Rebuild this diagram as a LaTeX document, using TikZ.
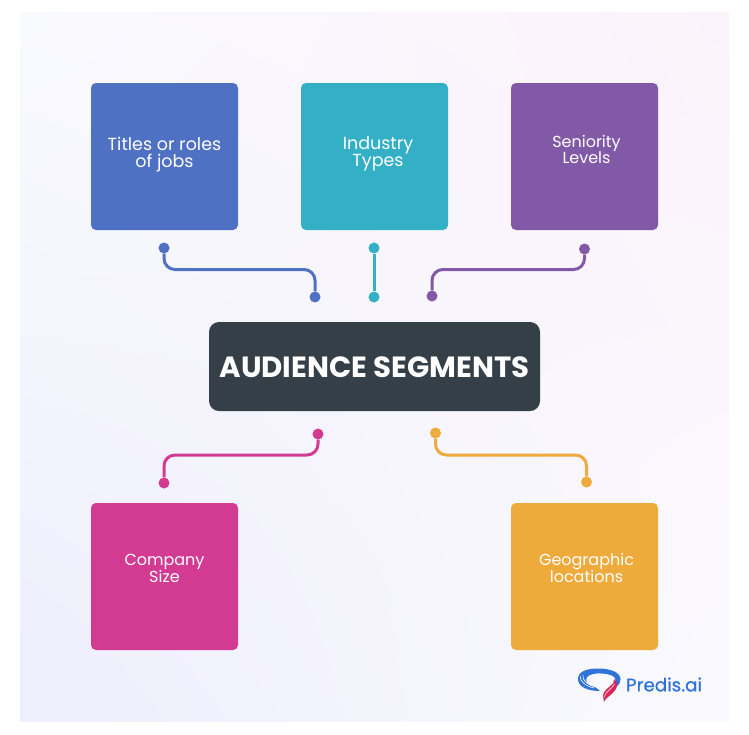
\documentclass[tikz,border=0pt]{standalone}
\usepackage{fontspec}
\setmainfont{Poppins}
\newfontfamily\logofont[FakeBold=0.5]{Poppins}
\usepackage{tikz}
\usetikzlibrary{shadings}
\definecolor{bluebox}{HTML}{4F71C4}
\definecolor{tealbox}{HTML}{33AFC6}
\definecolor{purplebox}{HTML}{8259A6}
\definecolor{pinkbox}{HTML}{D33A92}
\definecolor{amberbox}{HTML}{EFAA3C}
\definecolor{darkbox}{HTML}{343F48}
\definecolor{logoblue}{HTML}{2F72D8}
\definecolor{logored}{HTML}{D8285A}
\definecolor{panelul}{HTML}{F9FAFE}
\definecolor{panelur}{HTML}{FCF2FB}
\definecolor{panelll}{HTML}{EEEEFC}
\definecolor{panellr}{HTML}{FAFAFE}
\tikzset{
  segbox/.style={fill=#1,rounded corners=5pt,minimum size=147pt,inner sep=0pt},
  segtext/.style={text=white,align=center,inner sep=0pt,font=\fontsize{16}{16}\selectfont},
  segdot/.style={circle,fill=#1,minimum size=11pt,inner sep=0pt},
  seglink/.style={draw=#1,line width=3pt,rounded corners=11pt},
}
\begin{document}
\begin{tikzpicture}[x=1pt,y=-1pt]
  \useasboundingbox (0,0) rectangle (749,734);
  \shade[upper left=panelul,upper right=panelur,lower left=panelll,lower right=panellr] (20,12) rectangle (729,721);
  % boxes
  \node[segbox=bluebox] (titles) at (164.5,156.5) {};
  \node[segbox=tealbox] (industry) at (374.5,156.5) {};
  \node[segbox=purplebox] (seniority) at (584.5,156.5) {};
  \node[segbox=pinkbox] (company) at (164.5,576.5) {};
  \node[segbox=amberbox] (geographic) at (584.5,576.5) {};
  \node[segtext,font=\fontsize{17.5}{17}\selectfont,yshift=1.5pt] (titlestext) at (titles) {Titles or roles\\of jobs};
  \node[segtext,font=\fontsize{17.5}{17}\selectfont,xshift=3.5pt,yshift=2.5pt] (industrytext) at (industry) {Industry\\Types};
  \node[segtext,xshift=2pt,yshift=7pt] (senioritytext) at (seniority) {Seniority\\Levels};
  \node[segtext,yshift=8pt] (companytext) at (company) {Company\\Size};
  \node[segtext,xshift=2pt,yshift=8.5pt] (geographictext) at (geographic) {Geographic\\locations};
  \node[fill=darkbox,rounded corners=10pt,minimum width=331pt,minimum height=89pt,inner sep=0pt,
    text height=21pt,text depth=0pt,
    text=white,font=\fontsize{29.2}{30}\selectfont\bfseries] (audience) at (374.5,366.5) {AUDIENCE SEGMENTS};
  % dots
  \node[segdot=bluebox] (titlesa) at (164,248) {};
  \node[segdot=bluebox] (titlesb) at (315,297) {};
  \node[segdot=tealbox] (industrya) at (374,248) {};
  \node[segdot=tealbox] (industryb) at (374,297) {};
  \node[segdot=purplebox] (senioritya) at (584.5,249) {};
  \node[segdot=purplebox] (seniorityb) at (432,296) {};
  \node[segdot=pinkbox] (companya) at (318,434) {};
  \node[segdot=pinkbox] (companyb) at (164,483) {};
  \node[segdot=amberbox] (geographica) at (435.5,433) {};
  \node[segdot=amberbox] (geographicb) at (586.5,482) {};
  % connectors
  \draw[seglink=bluebox] (titlesa) -- (titlesa |- 0,269.5) -- (titlesb |- 0,269.5) -- (titlesb);
  \draw[seglink=tealbox] (industrya) -- (industryb);
  \draw[seglink=purplebox] (senioritya) -- (senioritya |- 0,269.5) -- (seniorityb |- 0,269.5) -- (seniorityb);
  \draw[seglink=pinkbox] (companya) -- (companya |- 0,455) -- (companyb |- 0,455) -- (companyb);
  \draw[seglink=amberbox] (geographica) -- (geographica |- 0,455) -- (geographicb |- 0,455) -- (geographicb);
  % logo
  \fill[logoblue] (607,692) .. controls (613,689) and (621,686) .. (620.5,679)
    .. controls (620,672) and (610,668.5) .. (598,668.5)
    .. controls (586,668.5) and (578,672) .. (578,679)
    .. controls (578,687) and (588,691) .. (600,691)
    .. controls (597,688) and (595,687) .. (591,686)
    .. controls (587,684) and (585,681) .. (587,677)
    .. controls (590,674) and (596,673) .. (602,673.5)
    .. controls (610,674) and (615.5,676) .. (615.5,680)
    .. controls (615.5,685) and (609,688) .. (607,692) -- cycle;
  \draw[white,line width=.6pt] (580,676) .. controls (580,682) and (586,686) .. (594,688);
  \draw[white,line width=.6pt] (583,675) .. controls (582,680) and (587,684) .. (592,685.5);
  \fill[logored] (614,679) .. controls (616,685) and (605,687) .. (603,695)
    .. controls (603,698) and (604,700) .. (604,702)
    .. controls (606,696) and (618,693) .. (617,683) -- cycle;
  \draw[white,line width=.5pt] (614.5,684) .. controls (612,689) and (606,691) .. (604,697);
  \node[text=logoblue,font=\logofont\fontsize{18.3}{18}\selectfont,inner sep=0pt] (predis) at (664,684.5) {Predis.ai};
\end{tikzpicture}
\end{document}
